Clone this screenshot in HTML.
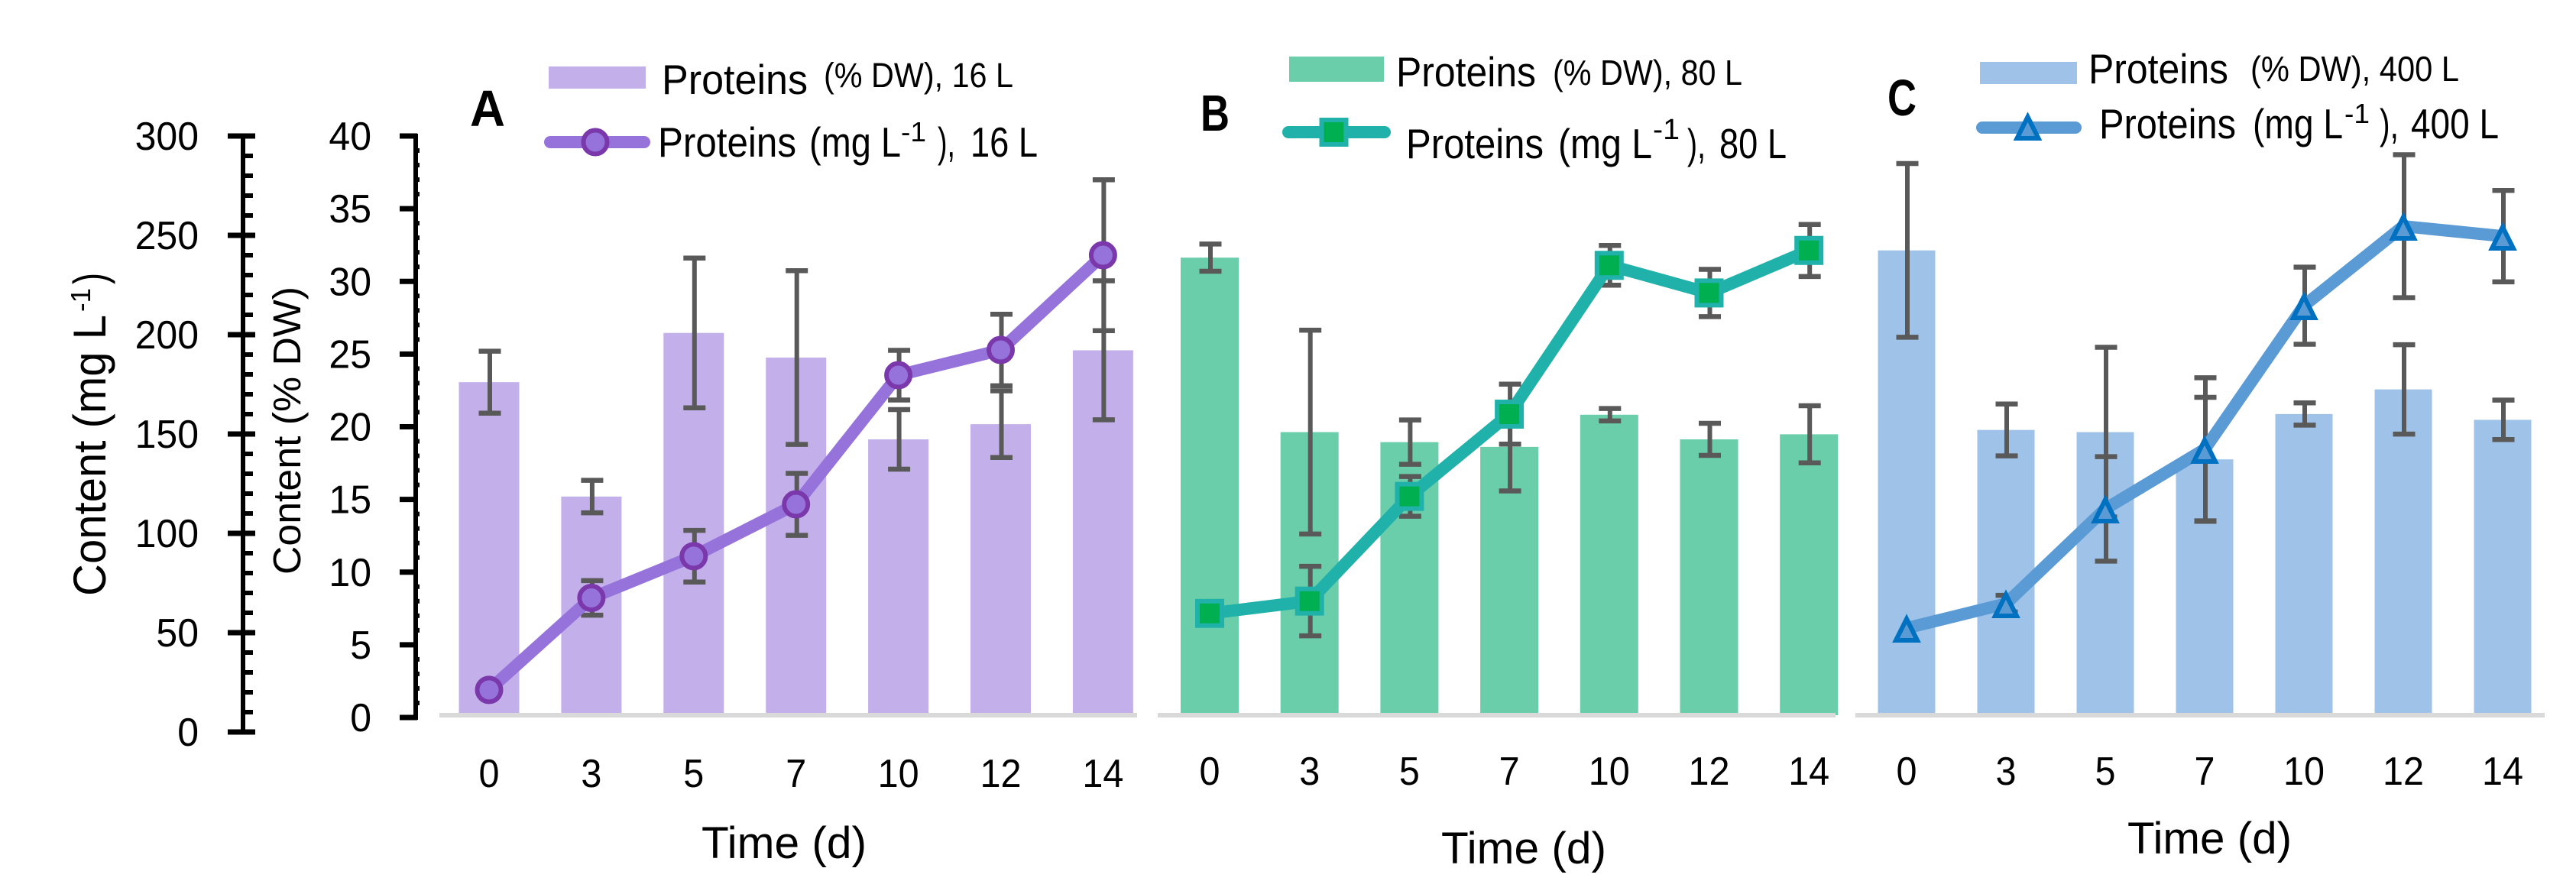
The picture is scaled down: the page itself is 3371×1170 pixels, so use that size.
<!DOCTYPE html>
<html lang="en">
<head>
<meta charset="utf-8">
<title>Protein content over time</title>
<style>
html,body{margin:0;padding:0;background:#fff;}
svg{display:block;}
text{font-family:"Liberation Sans",sans-serif;fill:#000;}
</style>
</head>
<body>
<svg id="chart" xmlns="http://www.w3.org/2000/svg" width="3371" height="1170" viewBox="0 0 3371 1170">
  <rect x="0" y="0" width="3371" height="1170" fill="#fff"/>

  <g>
    <text transform="translate(138,780) rotate(-90)" font-size="60" textLength="368" lengthAdjust="spacingAndGlyphs">Content (mg L</text>
    <text transform="translate(118,408) rotate(-90)" font-size="36" textLength="31" lengthAdjust="spacingAndGlyphs">-1</text>
    <text transform="translate(138,372) rotate(-90)" font-size="60" textLength="15" lengthAdjust="spacingAndGlyphs">)</text>
  </g>
  <text transform="translate(393,752) rotate(-90)" font-size="51" textLength="377" lengthAdjust="spacingAndGlyphs">Content (% DW)</text>

  <text x="615" y="165" font-size="67" font-weight="bold" textLength="46" lengthAdjust="spacingAndGlyphs">A</text>
  <text x="1571" y="171" font-size="67" font-weight="bold" textLength="38" lengthAdjust="spacingAndGlyphs">B</text>
  <text x="2470" y="151" font-size="67" font-weight="bold" textLength="38" lengthAdjust="spacingAndGlyphs">C</text>

  <text x="918" y="1123" font-size="58" textLength="216" lengthAdjust="spacingAndGlyphs">Time (d)</text>
  <text x="1886" y="1130" font-size="58" textLength="216" lengthAdjust="spacingAndGlyphs">Time (d)</text>
  <text x="2784" y="1117" font-size="58" textLength="215" lengthAdjust="spacingAndGlyphs">Time (d)</text>

  <!-- Legend A -->
  <g>
    <rect x="718" y="87" width="127" height="29" fill="#c3b0ea"/>
    <text x="866" y="123" font-size="55" textLength="191" lengthAdjust="spacingAndGlyphs">Proteins</text>
    <text x="1078" y="114" font-size="45" textLength="248" lengthAdjust="spacingAndGlyphs">(% DW), 16 L</text>
    <line x1="720" y1="186" x2="843" y2="186" stroke="#9673db" stroke-width="16" stroke-linecap="round"/>
    <text x="861" y="205" font-size="55" textLength="181" lengthAdjust="spacingAndGlyphs">Proteins</text>
    <text x="1059" y="205" font-size="55" textLength="120" lengthAdjust="spacingAndGlyphs">(mg L</text>
    <text x="1179" y="185" font-size="36" textLength="33" lengthAdjust="spacingAndGlyphs">-1</text>
    <text x="1227" y="205" font-size="55" textLength="23" lengthAdjust="spacingAndGlyphs">),</text>
    <text x="1270" y="205" font-size="55" textLength="88" lengthAdjust="spacingAndGlyphs">16 L</text>
  </g>
  <!-- Legend B -->
  <g>
    <rect x="1687" y="74" width="124" height="33" fill="#6bceab"/>
    <text x="1827" y="113" font-size="55" textLength="183" lengthAdjust="spacingAndGlyphs">Proteins</text>
    <text x="2032" y="111" font-size="46" textLength="248" lengthAdjust="spacingAndGlyphs">(% DW), 80 L</text>
    <line x1="1686" y1="173" x2="1812" y2="173" stroke="#20b2aa" stroke-width="16" stroke-linecap="round"/>
    <text x="1840" y="207" font-size="55" textLength="180" lengthAdjust="spacingAndGlyphs">Proteins</text>
    <text x="2039" y="207" font-size="55" textLength="123" lengthAdjust="spacingAndGlyphs">(mg L</text>
    <text x="2163" y="182" font-size="38" textLength="35" lengthAdjust="spacingAndGlyphs">-1</text>
    <text x="2208" y="207" font-size="55" textLength="24" lengthAdjust="spacingAndGlyphs">),</text>
    <text x="2250" y="207" font-size="55" textLength="88" lengthAdjust="spacingAndGlyphs">80 L</text>
  </g>
  <!-- Legend C -->
  <g>
    <rect x="2591" y="81" width="127" height="29" fill="#9fc3e8"/>
    <text x="2733" y="109" font-size="55" textLength="183" lengthAdjust="spacingAndGlyphs">Proteins</text>
    <text x="2945" y="106" font-size="46" textLength="273" lengthAdjust="spacingAndGlyphs">(% DW), 400 L</text>
    <line x1="2594" y1="167" x2="2716" y2="167" stroke="#5b9bd5" stroke-width="16" stroke-linecap="round"/>
    <text x="2747" y="181" font-size="55" textLength="179" lengthAdjust="spacingAndGlyphs">Proteins</text>
    <text x="2948" y="181" font-size="55" textLength="118" lengthAdjust="spacingAndGlyphs">(mg L</text>
    <text x="3068" y="161" font-size="36" textLength="33" lengthAdjust="spacingAndGlyphs">-1</text>
    <text x="3114" y="181" font-size="55" textLength="25" lengthAdjust="spacingAndGlyphs">),</text>
    <text x="3155" y="181" font-size="55" textLength="115" lengthAdjust="spacingAndGlyphs">400 L</text>
  </g>
</svg>
<script>
// ---- Data ----
const categories = ['0', '3', '5', '7', '10', '12', '14'];
const tickLabelsMg = ['0', '50', '100', '150', '200', '250', '300'];
const tickLabelsDw = ['0', '5', '10', '15', '20', '25', '30', '35', '40'];

const barsA = [23.0, 15.1, 26.4, 24.7, 19.05, 20.1, 25.2];
const barErrA = [2.14, 1.12, 5.17, 6.0, 2.06, 2.3, 4.8];
const lineA = [21.2, 67.5, 88.5, 114.6, 179.6, 192.3, 240];
const lineErrA = [0, 8.7, 13, 15.6, 12.5, 18, 38];

const barsB = [31.6, 19.55, 18.86, 18.53, 20.75, 19.05, 19.4];
const barErrB = [0.94, 7.04, 1.53, 3.04, 0.43, 1.11, 1.97];
const lineB = [59.7, 65.9, 118.6, 160, 234.9, 221, 242.4];
const lineErrB = [0, 17.5, 10, 15.1, 10, 11.9, 13.1];

const barsC = [32.1, 19.7, 19.55, 17.67, 20.8, 22.5, 20.4];
const barErrC = [6.0, 1.79, 5.86, 4.28, 0.77, 3.09, 1.36];
const lineC = [52.3, 64.6, 112.3, 142.3, 214.6, 254.6, 249.6];
const lineErrC = [0, 4.2, 26.3, 36, 19.4, 36, 23];

// ---- Axis functions ----
const svg = document.getElementById('chart');
const NS = 'http://www.w3.org/2000/svg';
const yBar = v => 936 - v * 18.95;       // %DW scale for bars
const yLine = v => 958 - v * 2.6;        // mg/L scale for lines
const yAxisMg = v => 958 - v * 2.6;      // outer axis
const yAxisDw = v => 939 - v * 19.025;   // inner axis

function mk(tag, attrs, parent) {
  const el = document.createElementNS(NS, tag);
  for (const k in attrs) el.setAttribute(k, attrs[k]);
  (parent || svg).appendChild(el);
  return el;
}

function marker(kind, x, y, parent) {
  if (kind === 'circle') {
    return mk('circle', {cx: x, cy: y, r: 15.5, fill: '#9673db', stroke: '#7b38ab', 'stroke-width': 6}, parent);
  }
  if (kind === 'square') {
    return mk('rect', {x: x - 16, y: y - 16, width: 32, height: 32, fill: '#00b050', stroke: '#20b2aa', 'stroke-width': 6}, parent);
  }
  return mk('polygon', {points: (x) + ',' + (y - 12) + ' ' + (x + 14) + ',' + (y + 16) + ' ' + (x - 14) + ',' + (y + 16), fill: '#5b9bd5', stroke: '#0070c0', 'stroke-width': 6}, parent);
}

function errorBar(x, yTop, yBot, parent) {
  const g = mk('g', {}, parent);
  
  
  mk('line', {x1: x, x2: x, y1: yTop, y2: yBot, stroke: '#595959', 'stroke-width': 6}, g);
  mk('line', {x1: x - 14.5, x2: x + 14.5, y1: yTop, y2: yTop, stroke: '#595959', 'stroke-width': 6.5}, g);
  mk('line', {x1: x - 14.5, x2: x + 14.5, y1: yBot, y2: yBot, stroke: '#595959', 'stroke-width': 6.5}, g);
}

function drawPanel(p) {
  const xAt = i => p.x0 + i * p.step;
  const group = mk('g', {});
  
  

  p.bars.forEach((v, i) => {
    const r = mk('rect', {x: xAt(i) - p.barW / 2, y: yBar(v), width: p.barW, height: 936 - yBar(v), fill: p.barColor}, group);
    
    
  });

  const base = mk('rect', {x: p.baseX1, y: 933, width: p.baseX2 - p.baseX1, height: 6, fill: '#d9d9d9'}, group);
  
  

  p.bars.forEach((v, i) => {
    errorBar(xAt(i) + 1, yBar(v + p.barErr[i]), yBar(v - p.barErr[i]), group);
  });
  p.line.forEach((v, i) => {
    if (p.lineErr[i] > 0) errorBar(xAt(i) + 1, yLine(v + p.lineErr[i]), yLine(v - p.lineErr[i]), group);
  });

  const pts = p.line.map((v, i) => xAt(i) + ',' + yLine(v)).join(' ');
  const pl = mk('polyline', {points: pts, fill: 'none', stroke: p.lineColor, 'stroke-width': 16, 'stroke-linejoin': 'round'}, group);
  
  

  p.line.forEach((v, i) => {
    const m = marker(p.kind, xAt(i), yLine(v), group);
    
    
  });

  categories.forEach((c, i) => {
    const t = mk('text', {x: xAt(i), y: p.tickY, 'font-size': 52, 'text-anchor': 'middle', textLength: c.length * 27, lengthAdjust: 'spacingAndGlyphs'}, group);
    t.textContent = c;
    
    
  });

  const lm = marker(p.kind, p.legendX, p.legendY);
  
  
}

function drawAxes() {
  // Outer mg/L axis
  const outer = mk('g', {});
  
  
  mk('rect', {x: 315, y: yAxisMg(300) - 3, width: 6, height: yAxisMg(0) - yAxisMg(300) + 6, fill: '#000'}, outer);
  tickLabelsMg.forEach(label => {
    const v = Number(label);
    const y = yAxisMg(v);
    mk('rect', {x: 298, y: y - 3.5, width: 36, height: 7, fill: '#000'}, outer);
    const t = mk('text', {x: 260, y: y + 18, 'font-size': 52, 'text-anchor': 'end', textLength: label.length * 27.8, lengthAdjust: 'spacingAndGlyphs'}, outer);
    t.textContent = label;
    
    
    if (v < 300) {
      for (let k = 1; k < 5; k++) {
        mk('rect', {x: 318, y: yAxisMg(v + k * 10) - 3, width: 13, height: 6, fill: '#000'}, outer);
      }
    }
  });

  // Inner %DW axis
  const inner = mk('g', {});
  
  
  mk('rect', {x: 541, y: yAxisDw(40) - 3, width: 6, height: yAxisDw(0) - yAxisDw(40) + 6, fill: '#000'}, inner);
  tickLabelsDw.forEach(label => {
    const v = Number(label);
    const y = yAxisDw(v);
    mk('rect', {x: 523, y: y - 3.5, width: 23, height: 7, fill: '#000'}, inner);
    const t = mk('text', {x: 486, y: y + 18, 'font-size': 52, 'text-anchor': 'end', textLength: label.length * 27.8, lengthAdjust: 'spacingAndGlyphs'}, inner);
    t.textContent = label;
    
    
    if (v < 40) {
      for (let k = 1; k < 5; k++) {
        mk('rect', {x: 544, y: yAxisDw(v + k) - 3, width: 5, height: 6, fill: '#000'}, inner);
      }
    }
  });
}

drawAxes();
drawPanel({name: 'panel-a-16-l', x0: 640, step: 133.9, barW: 79, bars: barsA, barErr: barErrA, line: lineA, lineErr: lineErrA,
  barColor: '#c3b0ea', lineColor: '#9673db', kind: 'circle', baseX1: 575, baseX2: 1488, tickY: 1030, legendX: 779, legendY: 186});
drawPanel({name: 'panel-b-80-l', x0: 1583, step: 130.7, barW: 76, bars: barsB, barErr: barErrB, line: lineB, lineErr: lineErrB,
  barColor: '#6bceab', lineColor: '#20b2aa', kind: 'square', baseX1: 1515, baseX2: 2402, tickY: 1027, legendX: 1745.5, legendY: 173});
drawPanel({name: 'panel-c-400-l', x0: 2495, step: 130, barW: 75, bars: barsC, barErr: barErrC, line: lineC, lineErr: lineErrC,
  barColor: '#9fc3e8', lineColor: '#5b9bd5', kind: 'triangle', baseX1: 2428, baseX2: 3330, tickY: 1027, legendX: 2653.5, legendY: 165});
</script>
</body>
</html>
